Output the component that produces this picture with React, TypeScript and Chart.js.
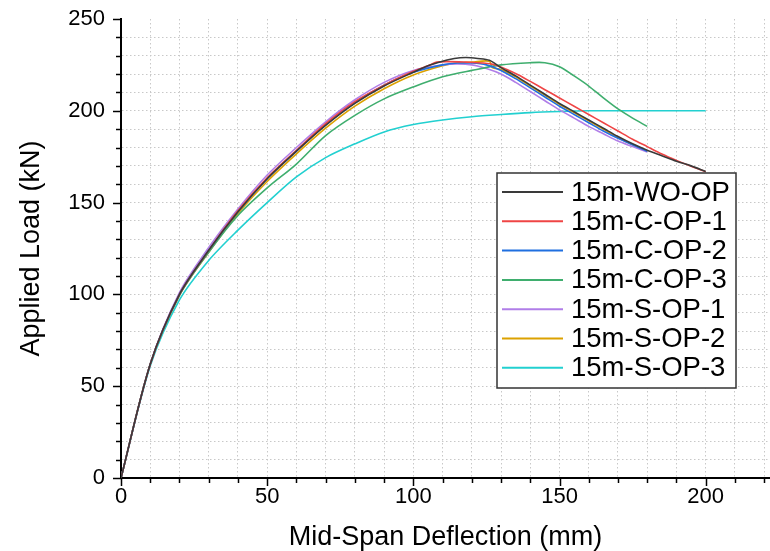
import React, { useEffect, useRef } from "react";
import { Chart, registerables } from "chart.js";

Chart.register(...registerables);

// ---- data ----
const woOpX = [0, 10, 20, 30, 40, 50, 60, 70, 80, 90, 100, 105, 110, 114, 118, 122, 126, 130, 135, 140, 145, 150, 155, 160, 165, 170, 175, 180, 185, 190, 195, 200];
const woOpY = [0, 62, 100, 124, 145, 163, 178, 192, 204, 213.5, 221, 224.5, 227, 228.5, 229, 228.5, 227.5, 223.5, 219, 214, 209, 204, 199.5, 195, 190.5, 186, 182, 178.5, 175.5, 172.5, 170, 167];

const cOp1X = [0, 10, 20, 30, 40, 50, 60, 70, 80, 90, 100, 105, 108, 112, 118, 124, 128, 132, 136, 140, 145, 150, 155, 160, 165, 170, 175, 180, 185, 190, 195, 200];
const cOp1Y = [0, 62, 100, 124, 145.5, 163.5, 178.5, 193, 205, 214, 221.5, 224.5, 226.5, 226.8, 226.5, 226, 225, 222.5, 219.5, 216, 211.5, 207, 202.5, 198, 193.5, 189, 184.5, 180.5, 176.5, 173, 169.8, 166.8];

const cOp2X = [0, 10, 20, 30, 40, 50, 60, 70, 80, 90, 100, 110, 115, 120, 125, 130, 135, 140, 145, 150, 155, 160, 165, 170, 175, 180];
const cOp2Y = [0, 62, 100, 124, 145, 163, 178, 192.5, 204.5, 214, 221, 225, 226, 226, 225, 222, 217.5, 212.5, 207.5, 202.5, 198, 193.5, 189, 185, 181.5, 178];

const cOp3X = [0, 10, 20, 30, 40, 50, 60, 70, 80, 90, 100, 110, 120, 130, 140, 145, 150, 155, 160, 165, 170, 175, 180];
const cOp3Y = [0, 62, 99.5, 123, 143, 158, 171, 186.5, 197.5, 206.5, 213, 218.5, 222, 225, 226.2, 226.2, 224, 219, 213.5, 207, 201, 196, 191.5];

const sOp1X = [0, 10, 20, 30, 40, 50, 60, 70, 80, 90, 100, 110, 115, 120, 125, 130, 135, 140, 145, 150, 155, 160, 165, 170, 175, 180];
const sOp1Y = [0, 62, 101, 125.5, 146.5, 165, 180, 194, 206, 215.5, 222, 225, 225.5, 225, 223, 220, 215.5, 210.5, 205.5, 200.5, 196, 191.5, 187.5, 183.5, 180.5, 177.5];

const sOp2X = [0, 10, 20, 30, 40, 50, 60, 70, 80, 90, 100, 110, 115, 120, 126, 127, 130, 135, 140, 145, 150, 155, 160, 165, 170, 175, 180];
const sOp2Y = [0, 62, 99.5, 123, 144, 161.5, 176.5, 190.5, 202.5, 212, 219.5, 224.5, 226, 226.5, 227, 223.5, 222.5, 218.5, 213.5, 208.5, 203.5, 199, 194.5, 190, 185.5, 181.5, 178];

const sOp3X = [0, 10, 20, 30, 40, 50, 60, 70, 80, 90, 100, 110, 120, 130, 140, 150, 160, 170, 180, 190, 200];
const sOp3Y = [0, 61, 97, 118.5, 135, 150, 164, 174.5, 182, 188.5, 192.5, 195, 196.8, 198, 199, 199.6, 200, 200, 200, 200, 200];

const seriesNames = ["15m-WO-OP", "15m-C-OP-1", "15m-C-OP-2", "15m-C-OP-3", "15m-S-OP-1", "15m-S-OP-2", "15m-S-OP-3"];
const seriesColors = ["#3a3a3a", "#ef4545", "#1f6fe0", "#3fae6e", "#b07ee8", "#dca100", "#22d0d0"];
const seriesX = [woOpX, cOp1X, cOp2X, cOp3X, sOp1X, sOp2X, sOp3X];
const seriesY = [woOpY, cOp1Y, cOp2Y, cOp3Y, sOp1Y, sOp2Y, sOp3Y];

const xTitle = "Mid-Span Deflection (mm)";
const yTitle = "Applied Load (kN)";
const xMin = 0, xMax = 222, xLastTick = 220, xStep = 10, xMajor = 50;
const yMin = 0, yMax = 250, yStep = 10, yMajor = 50;

const FONT = "'Liberation Sans', Arial, sans-serif";

const tickMarks = {
  id: "tickMarks",
  afterDraw(chart: any) {
    const ctx = chart.ctx;
    const xs = chart.scales.x;
    const ys = chart.scales.y;
    ctx.save();
    ctx.strokeStyle = "#000";
    ctx.lineWidth = 1.5;
    for (let v = xMin; v <= xLastTick; v += xStep) {
      const px = Math.round(xs.getPixelForValue(v)) + 0.5;
      const len = v % xMajor === 0 ? 8 : 5;
      ctx.beginPath();
      ctx.moveTo(px, ys.bottom);
      ctx.lineTo(px, ys.bottom + len);
      ctx.stroke();
    }
    for (let v = yMin; v <= yMax; v += yStep) {
      const py = Math.round(ys.getPixelForValue(v)) + 0.5;
      const len = v % yMajor === 0 ? 8 : 5;
      ctx.beginPath();
      ctx.moveTo(xs.left - len, py);
      ctx.lineTo(xs.left, py);
      ctx.stroke();
    }
    ctx.restore();
  },
};

const boxLegend = {
  id: "boxLegend",
  afterDraw(chart: any) {
    const ctx = chart.ctx;
    const left = 497, top = 173, w = 239, h = 215;
    ctx.save();
    ctx.fillStyle = "#fff";
    ctx.fillRect(left, top, w, h);
    ctx.strokeStyle = "#333";
    ctx.lineWidth = 1.5;
    ctx.strokeRect(left, top, w, h);
    ctx.font = `27.5px ${FONT}`;
    ctx.textBaseline = "middle";
    ctx.textAlign = "left";
    chart.data.datasets.forEach((ds: any, i: number) => {
      const y = top + 19 + i * 29.3;
      ctx.strokeStyle = ds.borderColor;
      ctx.lineWidth = 2;
      ctx.beginPath();
      ctx.moveTo(left + 5, y);
      ctx.lineTo(left + 66, y);
      ctx.stroke();
      ctx.fillStyle = "#000";
      ctx.fillText(ds.label, left + 74, y + 1);
    });
    ctx.restore();
  },
};

function makeTicks(min: number, max: number, step: number) {
  const out: any[] = [];
  for (let v = min; v <= max; v += step) out.push({ value: v });
  return out;
}

export default function App() {
  const ref = useRef<HTMLCanvasElement | null>(null);
  useEffect(() => {
    if (!ref.current) return;
    const datasets = seriesNames.map((name, i) => ({
      label: name,
      data: seriesX[i].map((x, j) => ({ x, y: seriesY[i][j] })),
      borderColor: seriesColors[i],
      backgroundColor: seriesColors[i],
      borderWidth: 1.6,
      pointRadius: 0,
      showLine: true,
      tension: 0.3,
      fill: false,
    }));
    const gridColor = (lim: number[]) => (c: any) =>
      c.tick && (c.tick.value === lim[0] || c.tick.value === lim[1]) ? "rgba(0,0,0,0)" : "#c8c8c8";
    const chart = new Chart(ref.current, {
      type: "scatter",
      data: { datasets },
      plugins: [tickMarks, boxLegend],
      options: {
        responsive: false,
        animation: false,
        layout: { padding: { top: 19, right: 0, left: 0, bottom: 0 } },
        plugins: { legend: { display: false }, tooltip: { enabled: false } },
        scales: {
          x: {
            type: "linear",
            min: xMin,
            max: xMax,
            afterBuildTicks: (s: any) => { s.ticks = makeTicks(xMin, xLastTick, xStep); },
            afterFit: (s: any) => { s.height = 73; s.paddingLeft = 0; s.paddingRight = 0; },
            ticks: {
              callback: (v: any) => (v % xMajor === 0 ? String(v) : ""),
              font: { family: FONT, size: 22 },
              color: "#000",
              padding: 6,
              maxRotation: 0,
              autoSkip: false,
            },
            grid: { color: gridColor([xMin, 999]), lineWidth: 1, drawTicks: false } as any,
            border: { display: true, color: "#000", width: 2, dash: [1.5, 2.5] } as any,
            title: { display: true, text: xTitle, font: { family: FONT, size: 27 }, color: "#000", padding: { top: 0, bottom: -3 } },
          },
          y: {
            type: "linear",
            min: yMin,
            max: yMax,
            afterBuildTicks: (s: any) => { s.ticks = makeTicks(yMin, yMax, yStep); },
            afterFit: (s: any) => { s.width = 121; s.paddingTop = 0; s.paddingBottom = 0; },
            ticks: {
              callback: (v: any) => (v % yMajor === 0 ? String(v) : ""),
              font: { family: FONT, size: 22 },
              color: "#000",
              padding: 16,
              autoSkip: false,
            },
            grid: { color: gridColor([yMin, yMax]), lineWidth: 1, drawTicks: false } as any,
            border: { display: true, color: "#000", width: 2, dash: [1.5, 2.5] } as any,
            title: { display: true, text: yTitle, font: { family: FONT, size: 27 }, color: "#000", padding: { top: 15, bottom: 0 } },
          },
        },
      } as any,
    });
    return () => chart.destroy();
  }, []);
  return (
    <div style={{ position: "absolute", left: 0, top: 0, width: 770, height: 551, background: "#fff" }}>
      <canvas ref={ref} width={770} height={551} style={{ display: "block" }} />
    </div>
  );
}
